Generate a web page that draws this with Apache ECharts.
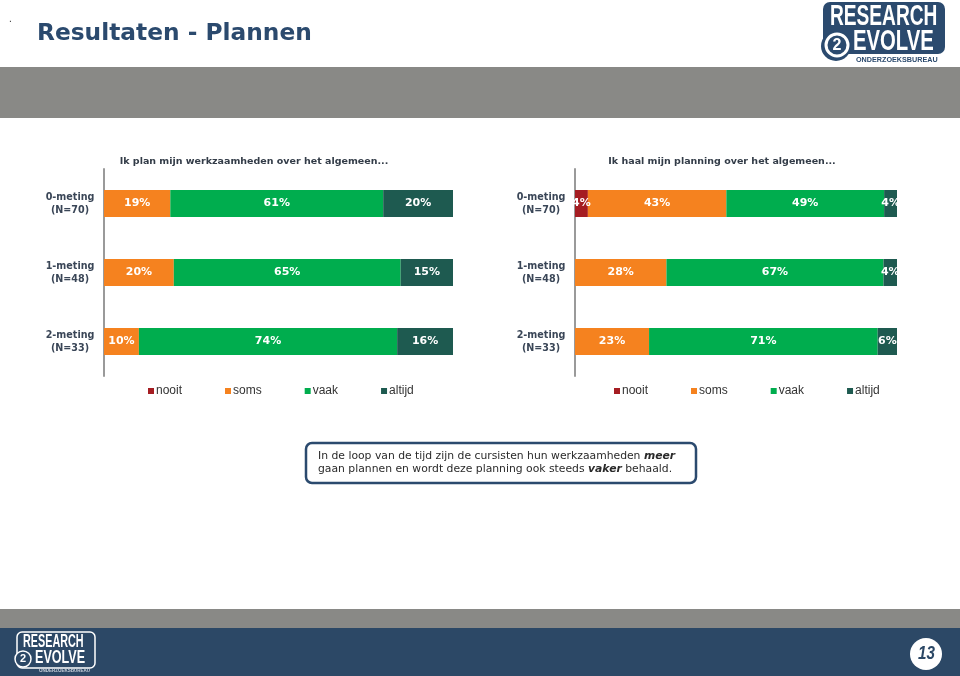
<!DOCTYPE html>
<html><head><meta charset="utf-8">
<script src="https://cdn.jsdelivr.net/npm/echarts@6/dist/echarts.min.js"></script>
<style>html,body{margin:0;padding:0;background:#fff}#c{width:960px;height:676px}</style>
</head><body><div id="c"></div>
<script>
const categories = ['0-meting|(N=70)', '1-meting|(N=48)', '2-meting|(N=33)'];
const seriesNames = ['nooit', 'soms', 'vaak', 'altijd'];
const leftTitle = 'Ik plan mijn werkzaamheden over het algemeen...';
const rightTitle = 'Ik haal mijn planning over het algemeen...';
const leftNooit = [0, 0, 0];
const leftSoms = [19, 20, 10];
const leftVaak = [61, 65, 74];
const leftAltijd = [20, 15, 16];
const rightNooit = [4, 0, 0];
const rightSoms = [43, 28.4, 23];
const rightVaak = [49, 67.4, 71];
const rightAltijd = [4, 4.2, 6];

const colors = {nooit:'#A51D22', soms:'#F5821F', vaak:'#00AD4E', altijd:'#1E5A50'};
const NAVY = '#2B4A6E';
const FOOT = '#2C4866';
const FONT = 'DejaVu Sans, Verdana, sans-serif';
const COND = '"Liberation Sans", Arial, sans-serif';

const chart = echarts.init(document.getElementById('c'), null, {renderer:'canvas'});

function mk(name, data, idx){
  return {
    name, type:'bar', stack:'s'+idx, data, xAxisIndex:idx, yAxisIndex:idx,
    barWidth:27, itemStyle:{color:colors[name]},
    label:{show:true, position:'inside', color:'#fff', fontWeight:'bold', fontFamily:FONT, fontSize:11,
      formatter:p => p.value > 0 ? Math.round(p.value) + '%' : ''},
    emphasis:{disabled:true}, animation:false
  };
}
const grids = [
  {left:104, width:349, top:169, height:207},
  {left:575, width:322, top:169, height:207}
];
const yAxes = grids.map((g,i)=>({
  type:'category', gridIndex:i, data:categories, inverse:true,
  axisLine:{show:true, lineStyle:{color:'#9a9a9a', width:2}}, axisTick:{show:false},
  axisLabel:{margin:9, align:'right',
    formatter:v => v.split('|').map(s => '{a|' + s + '}').join('\n'),
    rich:{a:{fontFamily:FONT, fontWeight:'bold', fontSize:9.6, color:'#3a4657', lineHeight:13, width:50, align:'center'}}}
}));
const xAxes = grids.map((g,i)=>({type:'value', gridIndex:i, min:0, max:100, show:false}));

const legendBase = {data:seriesNames, icon:'rect', itemWidth:6, itemHeight:6, itemGap:43, top:385, padding:0,
  textStyle:{fontFamily:'Liberation Sans, Arial, sans-serif', fontSize:12, color:'#333', padding:[0,0,0,-3]}, selectedMode:false};

function ctext(x, y, text, size, sx, fill, extra){
  return Object.assign({type:'text', x, y, scaleX:sx, style:{text, fill, font:'bold ' + size + 'px ' + COND, align:'left', verticalAlign:'middle'}}, extra||{});
}
function logoTop(){
  return {type:'group', x:822, y:2, children:[
    {type:'rect', shape:{x:1,y:0,width:122,height:52,r:7}, style:{fill:NAVY}},
    {type:'circle', shape:{cx:14,cy:44,r:15}, style:{fill:NAVY}},
    ctext(8, 15, 'RESEARCH', 29, 0.66, '#fff'),
    {type:'circle', shape:{cx:15,cy:43,r:11}, style:{fill:NAVY, stroke:'#fff', lineWidth:3}},
    {type:'text', x:15, y:44, style:{text:'2', fill:'#fff', font:'bold 16px ' + COND, align:'center', verticalAlign:'middle'}},
    ctext(31, 40, 'EVOLVE', 29, 0.7, '#fff'),
    ctext(34, 58, 'ONDERZOEKSBUREAU', 8, 0.9, NAVY)
  ]};
}
function logoFoot(){
  return {type:'group', x:15, y:632, children:[
    {type:'rect', shape:{x:2,y:0,width:78,height:36,r:5}, style:{fill:FOOT, stroke:'#fff', lineWidth:1.5}},
    ctext(8, 10, 'RESEARCH', 18, 0.6, '#fff'),
    {type:'circle', shape:{cx:8,cy:27,r:8}, style:{fill:FOOT, stroke:'#fff', lineWidth:1.5}},
    {type:'text', x:8, y:27, style:{text:'2', fill:'#fff', font:'bold 11px ' + COND, align:'center', verticalAlign:'middle'}},
    ctext(20, 26, 'EVOLVE', 18, 0.7, '#fff'),
    ctext(24, 39, 'ONDERZOEKSBUREAU', 5, 0.9, '#c8d0da')
  ]};
}

chart.setOption({
  animation:false,
  grid:grids, xAxis:xAxes, yAxis:yAxes,
  legend:[Object.assign({}, legendBase, {left:148}), Object.assign({}, legendBase, {left:614})],
  series:[
    mk('nooit', leftNooit, 0), mk('soms', leftSoms, 0), mk('vaak', leftVaak, 0), mk('altijd', leftAltijd, 0),
    mk('nooit', rightNooit, 1), mk('soms', rightSoms, 1), mk('vaak', rightVaak, 1), mk('altijd', rightAltijd, 1)
  ],
  graphic:[
    {type:'text', x:9, y:14, style:{text:'.', fill:'#333', font:'10px sans-serif'}},
    {type:'text', x:37, y:34, style:{text:'Resultaten - Plannen', fill:NAVY, font:'bold 23.3px ' + FONT, verticalAlign:'middle'}},
    {type:'rect', shape:{x:0,y:67,width:960,height:51}, style:{fill:'#898986'}},
    logoTop(),
    {type:'text', x:254, y:162, style:{text:leftTitle, fill:'#333c48', font:'bold 9.5px ' + FONT, align:'center', verticalAlign:'middle'}},
    {type:'text', x:722, y:162, style:{text:rightTitle, fill:'#333c48', font:'bold 9.5px ' + FONT, align:'center', verticalAlign:'middle'}},
    {type:'rect', shape:{x:306,y:443,width:390,height:40,r:6}, style:{fill:'#fff', stroke:NAVY, lineWidth:2.5}},
    {type:'text', x:318, y:463, style:{
      text:'In de loop van de tijd zijn de cursisten hun werkzaamheden {b|meer}\ngaan plannen en wordt deze planning ook steeds {b|vaker} behaald.',
      fill:'#2a2a2a', font:'10.8px ' + FONT, lineHeight:13, verticalAlign:'middle',
      rich:{b:{fontWeight:'bold', fontStyle:'italic', fontFamily:FONT, fontSize:10.8, fill:'#2a2a2a', lineHeight:13}}
    }},
    {type:'rect', shape:{x:0,y:609,width:960,height:20}, style:{fill:'#898986'}},
    {type:'rect', shape:{x:0,y:628,width:960,height:48}, style:{fill:FOOT}},
    logoFoot(),
    {type:'circle', shape:{cx:926,cy:654,r:16}, style:{fill:'#fff'}},
    {type:'text', x:918, y:654, scaleX:0.8, style:{text:'13', fill:FOOT, font:'italic bold 19px ' + COND, align:'left', verticalAlign:'middle'}}
  ]
});
</script></body></html>
